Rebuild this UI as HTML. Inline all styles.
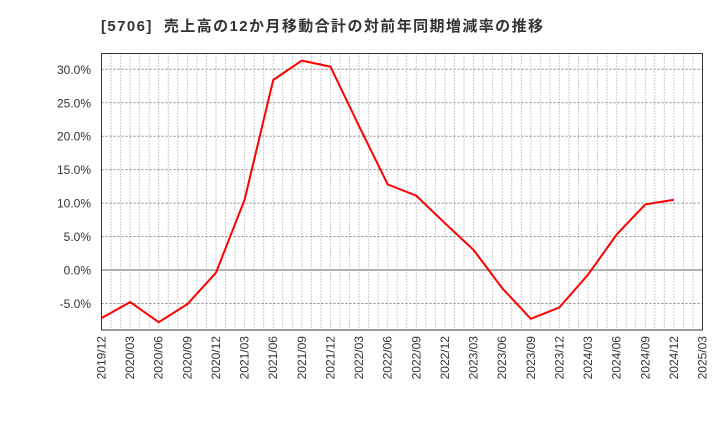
<!DOCTYPE html>
<html><head><meta charset="utf-8"><style>
body{margin:0;background:#fff;}
svg{display:block;font-family:"Liberation Sans","Noto Sans CJK JP",sans-serif;}
</style></head><body>
<svg id="c" width="720" height="440">
<text x="101" y="31" font-size="15" font-weight="bold" fill="#333" textLength="442" lengthAdjust="spacing" xml:space="preserve">[5706]  売上高の12か月移動合計の対前年同期増減率の推移</text>
<g id="grid"></g><g id="axes"></g>
<polyline id="line" fill="none" stroke="#f00" stroke-width="2"/>
<rect x="101.5" y="53.5" width="601" height="276.5" fill="none" stroke="#333" stroke-width="1"/>
</svg>
<script>
const categories=["2019/12","2020/03","2020/06","2020/09","2020/12","2021/03","2021/06","2021/09","2021/12","2022/03","2022/06","2022/09","2022/12","2023/03","2023/06","2023/09","2023/12","2024/03","2024/06","2024/09","2024/12","2025/03"];
const values=[-7.2,-4.8,-7.8,-5.1,-0.4,10.5,28.4,31.3,30.4,21.5,12.8,11.1,7.0,3.0,-2.7,-7.3,-5.6,-0.7,5.3,9.8,10.5];
const yTicks=[-5,0,5,10,15,20,25,30];
const L=101.5,R=702.5,T=53.5,B=330;
const x=i=>L+(R-L)*i/(categories.length-1);
const y=v=>270-v*6.69;
const ns="http://www.w3.org/2000/svg";
const grid=document.getElementById('grid'),axes=document.getElementById('axes');
function mk(tag,at,parent){const e=document.createElementNS(ns,tag);for(const k in at)e.setAttribute(k,at[k]);parent.appendChild(e);return e;}
const months=(categories.length-1)*3;
for(let m=1;m<months;m++){
 const xx=L+(R-L)*m/months;
 const g=mk('line',{x1:xx,x2:xx,y1:T,y2:B,stroke:'#999','stroke-dasharray':'1,2','stroke-width':1},grid);
 
 
}
yTicks.forEach(v=>{
 const g=mk('line',{x1:L,x2:R,y1:y(v),y2:y(v),stroke:v===0?'#666':'#888','stroke-dasharray':v===0?'none':'2,2','stroke-width':1},grid);
 
 
 const t=mk('text',{x:91,y:y(v)+4.5,'text-anchor':'end','font-size':12,fill:'#333'},axes);
 t.textContent=v.toFixed(1)+'%';
 
 
});
categories.forEach((c,i)=>{
 const t=mk('text',{x:0,y:0,'text-anchor':'end','font-size':12,fill:'#333',transform:`translate(${x(i)+4},336) rotate(-90)`},axes);
 t.textContent=c;
 
 
});
document.getElementById('line').setAttribute('points',values.map((v,i)=>x(i)+','+y(v)).join(' '));
</script>
</body></html>
